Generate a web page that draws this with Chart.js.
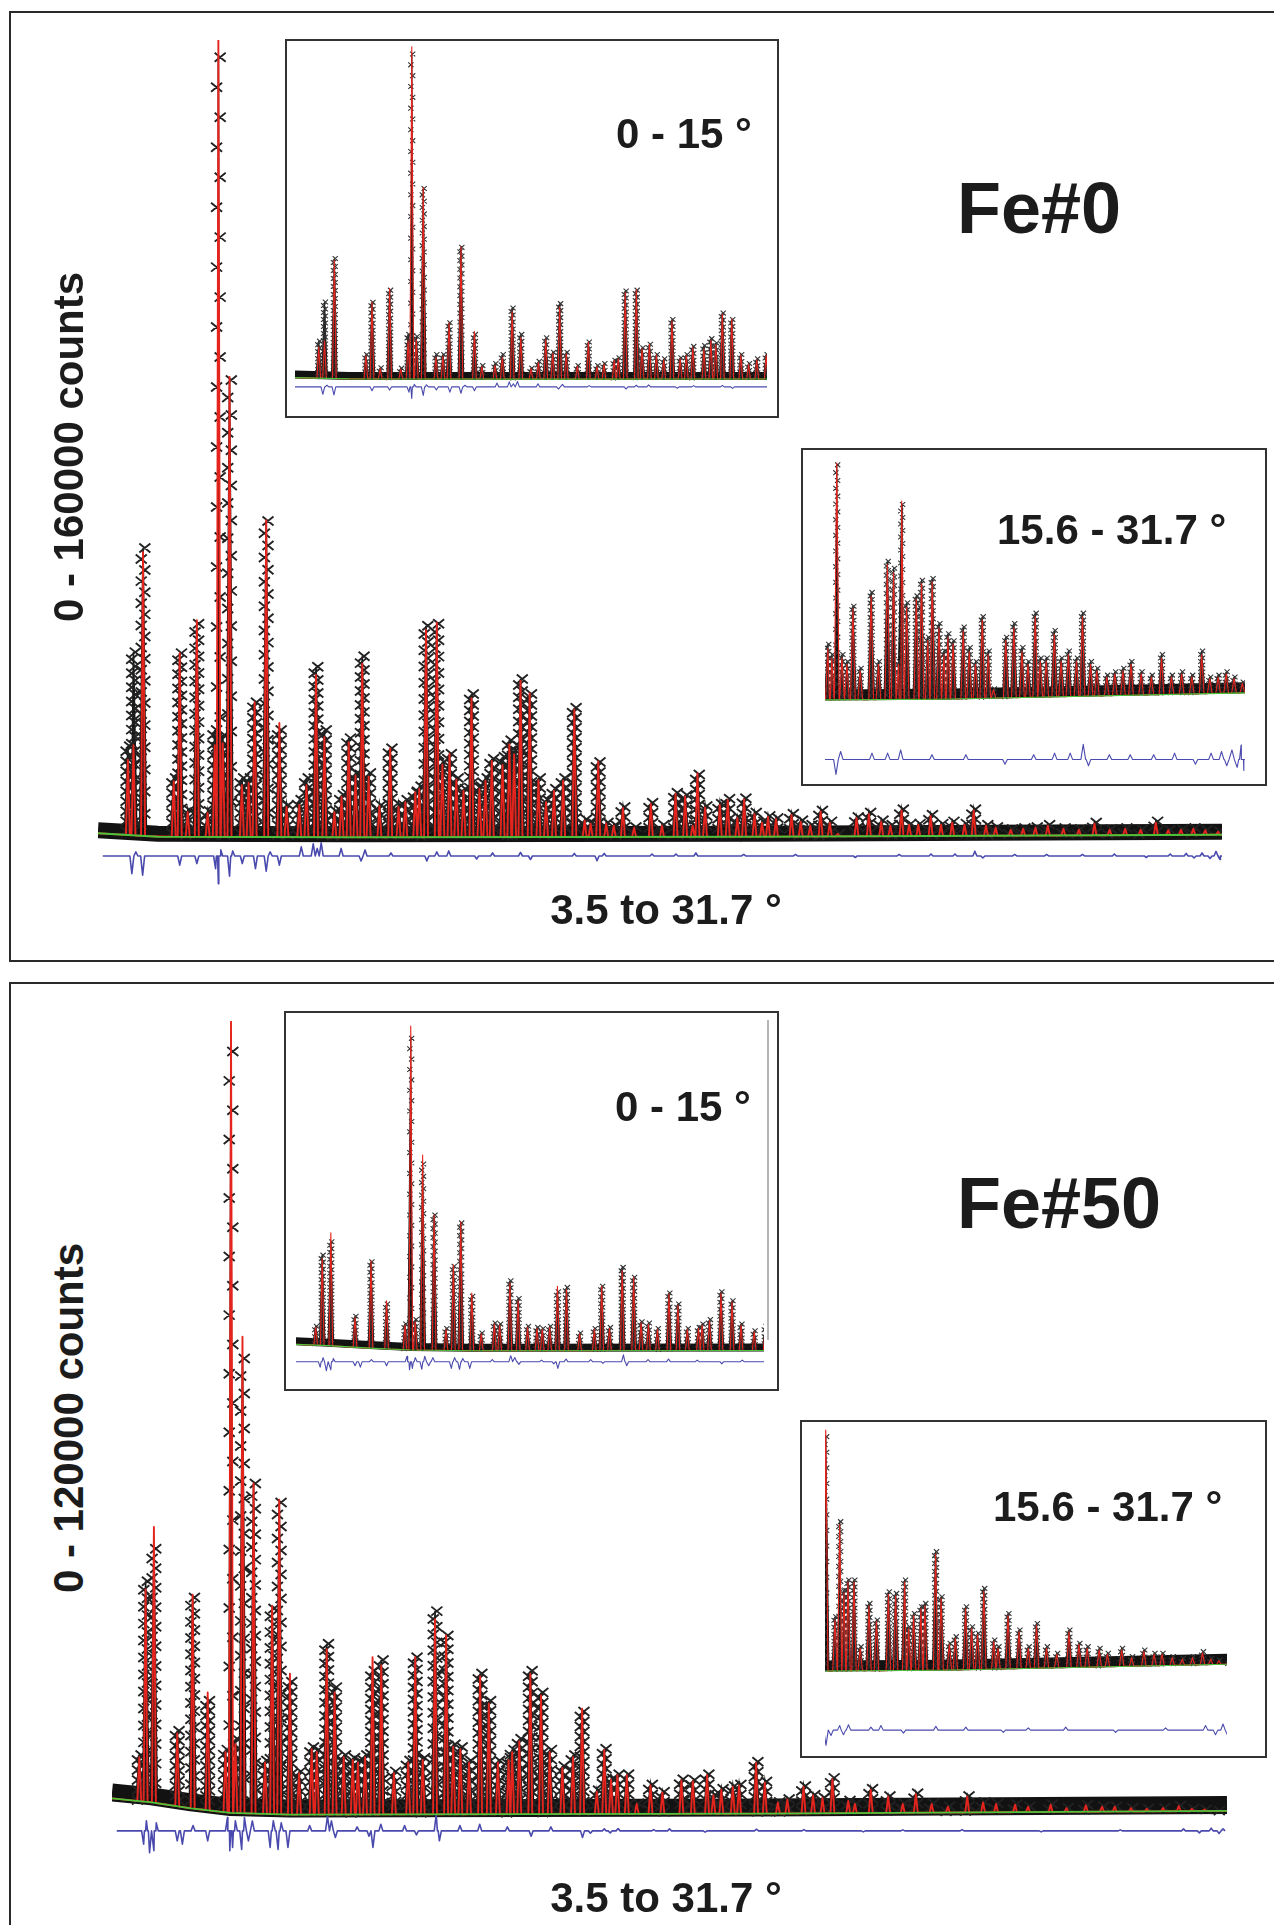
<!DOCTYPE html>
<html><head><meta charset="utf-8">
<script src="https://cdn.jsdelivr.net/npm/chart.js@4.4.1/dist/chart.umd.min.js"></script>
<style>
html,body{margin:0;padding:0;background:#fff;}
body{width:1274px;height:1925px;position:relative;overflow:hidden;font-family:"Liberation Sans",Arial,Helvetica,sans-serif;}
.panel{position:absolute;border:2px solid #2a2a2a;box-sizing:border-box;}
.inset{position:absolute;border:2px solid #333;box-sizing:border-box;background:#fff;}
canvas{position:absolute;}
.t{position:absolute;font-weight:bold;color:#1c1c1c;white-space:nowrap;line-height:1;}
</style></head><body>
<div class="panel" style="left:9px;top:11px;width:1300px;height:951px;"></div>
<div class="panel" style="left:9px;top:982px;width:1300px;height:1000px;"></div>
<script>
// ================= DATA =================
// Fe#0 : peak positions (2theta, deg), observed and calculated peak heights (counts)
const fe0Pos = [4.25,4.39,4.63,5.40,5.55,5.75,5.98,6.25,6.43,6.52,6.63,6.80,7.11,7.28,7.43,7.72,8.05,8.23,8.55,8.73,8.97,9.18,9.43,9.61,9.79,9.96,10.13,10.29,10.56,10.83,11.04,11.21,11.46,11.56,11.73,12.00,12.14,12.32,12.49,12.67,12.87,13.07,13.22,13.38,13.65,13.82,13.94,14.10,14.33,14.55,14.74,14.94,15.17,15.45,
15.71,15.86,16.05,16.25,16.44,16.67,16.95,17.37,17.65,17.99,18.23,18.42,18.54,18.73,19.10,19.30,19.54,19.71,19.97,20.16,20.31,20.51,20.90,21.13,21.37,21.63,21.86,22.06,22.53,22.84,23.15,23.38,23.66,23.85,24.08,24.39,24.65,24.93,25.24,25.47,25.78,26.02,26.40,26.71,27.02,27.33,27.72,28.11,28.50,28.88,29.27,29.66,30.04,30.35,30.67,30.98,31.28,31.60];
const fe0Obs = [20400,39000,59600,14100,38800,7800,44600,7600,23600,156600,22600,92800,14100,14100,29100,64900,23600,8800,9800,14100,36100,23600,7600,10800,22000,15100,38200,15100,8800,20000,8800,9800,11300,12500,44200,44600,17300,18900,14100,12000,30700,12500,14100,17900,18300,21600,19500,33700,30700,14100,9800,12000,14100,28000,
5970,5320,17290,5320,4880,8370,4450,9240,4880,11200,10760,4880,14790,8590,9020,10000,6410,10110,7280,5540,6630,6190,7060,5760,4880,7710,5540,3150,6410,7280,5760,4880,7930,5100,5100,6840,5100,5540,5100,7930,4880,4450,4020,4230,4450,4880,4230,4020,5320,4020,4230,4020,5540,3900,4020,4230,3900,3580];
const fe0Calc = [17700,20600,58800,13500,38800,7400,45300,7200,20600,160000,21000,93400,12700,13200,29100,65100,25000,8400,8800,12700,34500,22200,7400,10400,21200,14600,36700,14400,8600,20000,8400,9400,11300,12000,43400,44800,16800,18900,13800,11600,29900,12000,13600,17500,16700,20800,18800,33300,30900,13700,9400,11600,13600,27600,
5700,5100,17400,5100,4700,8200,4300,9000,4700,11000,10500,4700,15000,8300,8800,9800,6200,9900,7000,5300,6400,6000,6800,5500,4700,7500,5300,3100,6200,7000,5500,4700,7700,4900,4900,6600,4900,5300,4900,7700,4700,4300,3900,4100,4300,4700,4100,3900,5100,3900,4100,3900,5300,3800,3900,4100,3800,3500];
const fe0BgPos = [3.5,5.0,10.0,20.0,31.7];
const fe0Bg = [3200,2500,2400,2500,2900];
const fe0DiffPos = [4.35,4.45,4.62,5.55,5.98,6.45,6.52,6.58,6.80,6.88,7.12,7.45,7.72,7.82,8.05,8.6,8.9,9.0,9.1,9.6,10.1,10.2,10.85,11.75,12.0,12.3,13.0,13.4,14.1,14.35,15.45,16.02,16.2,17.4,18.0,18.5,19.7,21.0,22.5,23.6,24.4,25.0,25.5,25.7,26.5,27.3,28.2,29.0,29.8,30.4,30.8,31.0,31.2,31.4,31.55,31.65];
const fe0Diff = [-3500,800,-3800,-1800,-1500,-2500,-5500,1200,-4000,1000,-1500,-2500,-3000,800,-1800,1800,2400,1500,2600,1500,-1000,1200,600,-1000,800,1000,-600,600,700,-700,500,-950,500,400,400,600,300,300,-300,300,400,400,950,-400,300,300,300,400,-300,400,500,-400,600,-500,900,-700];

// Fe#50
const fe50Pos = [4.19,4.35,4.56,5.15,5.54,5.92,6.37,6.51,6.62,6.80,7.08,7.37,7.55,7.73,8.00,8.23,8.55,8.68,8.93,9.13,9.36,9.59,9.72,9.90,10.09,10.31,10.63,10.99,11.17,11.36,11.67,11.95,12.13,12.31,12.53,12.81,13.03,13.26,13.53,13.62,13.80,14.08,14.35,14.57,14.89,15.16,
15.39,15.76,15.95,16.12,16.28,16.52,16.77,17.12,17.42,17.90,18.19,18.55,18.71,18.91,19.20,19.36,19.79,20.01,20.34,20.58,20.99,21.23,21.47,21.72,22.12,22.29,22.69,23.13,23.50,23.83,24.23,24.64,25.13,25.53,25.86,26.34,26.67,27.24,27.64,28.13,28.54,28.86,29.27,29.67,30.08,30.48,30.81,31.13,31.46];
const fe50Obs = [9330,35540,40450,13010,33080,17520,10150,115390,11790,69120,50280,8510,31440,47410,20390,6870,10560,10150,26120,19570,9330,8920,8510,9330,22030,23660,6870,8510,24070,8920,31030,27350,10970,10560,8510,21610,17520,8510,8920,10150,11790,22030,18750,10150,7690,9330,
15890,4020,10290,5780,6440,6440,2050,4900,3800,5670,5560,6440,3360,4240,4680,4900,8310,5340,2270,2710,4680,3360,2930,5890,2490,2050,4240,3150,2050,3580,2050,1610,3150,2270,2050,1940,1610,1940,1390,1830,1610,1610,1390,1280,1390,1720,1280,1170,950];
const fe50Calc = [9000,34300,43730,12600,33490,18750,9800,119900,11000,72390,50280,8200,31850,47820,21610,6600,10200,9800,25300,18750,9000,8600,8200,9000,24070,22840,6600,8200,24070,8600,29800,27350,10600,10200,8200,21200,17100,8200,8600,9800,11400,21600,18300,9800,7400,9000,
16330,3800,10100,5600,6300,6300,1950,4750,3700,5500,5400,6300,3250,4100,4550,4750,8150,5200,2200,2600,4550,3250,2850,5700,2400,1950,4100,3050,1950,3450,1950,1550,3050,2200,1950,1850,1550,1850,1330,1750,1550,1550,1330,1230,1330,1650,1230,1120,920];
const fe50BgPos = [3.5,4.5,5.5,6.5,8.0,20.0,31.7];
const fe50Bg = [2800,2200,1300,600,350,500,900];
const fe50DiffPos = [4.30,4.37,4.45,4.56,4.62,5.15,5.28,5.55,5.92,6.42,6.48,6.55,6.62,6.78,6.85,6.95,7.05,7.50,7.58,7.70,7.78,7.95,8.50,8.95,9.05,9.15,9.70,10.00,10.10,10.30,10.90,11.20,11.70,11.78,12.30,12.80,13.50,14.10,14.60,15.40,15.60,15.95,16.10,16.30,17.20,17.60,18.50,19.80,21.00,22.50,23.50,25.00,27.00,29.00,30.60,31.00,31.30,31.50,31.60];
const fe50Diff = [-2000,1500,-3300,-3000,1200,-1500,-2000,800,-1500,2000,-3000,-2500,1500,-2800,2000,-1500,1500,-2500,1500,-2800,1200,-2500,800,2200,1500,-1000,600,-800,-2500,1000,800,-600,2500,-1500,800,1000,600,-800,600,-1000,-350,300,-300,350,200,300,-200,250,200,-150,150,200,-150,150,300,-300,400,-400,300];

const rangeFull = [3.5, 31.7];

// ================= RENDERING =================
const RED = '#e5241d', GREEN = '#4cc23a', BLUE = '#4a4aae', BLACK = '#121212';

function bgAt(bp, bv, x) {
  if (x <= bp[0]) return bv[0];
  for (let i = 1; i < bp.length; i++) {
    if (x <= bp[i]) { const t = (x - bp[i-1]) / (bp[i] - bp[i-1]); return bv[i-1] + t * (bv[i] - bv[i-1]); }
  }
  return bv[bv.length - 1];
}
function spikePts(pos, h, bp, bv, w) {
  const pts = [{x: rangeFull[0], y: bgAt(bp, bv, rangeFull[0])}, {x: rangeFull[1], y: bgAt(bp, bv, rangeFull[1])}];
  pos.forEach((p, i) => {
    pts.push({x: p - w, y: bgAt(bp, bv, p - w)}, {x: p, y: h[i]}, {x: p + w, y: bgAt(bp, bv, p + w)});
  });
  return pts.sort((a, b) => a.x - b.x);
}
function diffPts(pos, d, off, w) {
  const pts = [{x: 3.62, y: off}, {x: 31.66, y: off}];
  pos.forEach((p, i) => { pts.push({x: p - w, y: off}, {x: p, y: off + d[i]}, {x: p + w, y: off}); });
  return pts.sort((a, b) => a.x - b.x);
}

const cfgs = {};
const obsMarks = {
  id: 'obsMarks',
  beforeDatasetDraw(chart, args) {
    if (args.index !== 3) return;
    const o = cfgs[chart.canvas.id];
    const {ctx, chartArea: a, scales: {x, y}} = chart;
    ctx.save();
    ctx.beginPath(); ctx.rect(a.left, a.top, a.right - a.left, a.bottom - a.top); ctx.clip();
    ctx.beginPath();
    o.bp.forEach((p, i) => {
      const px = x.getPixelForValue(p), py = y.getPixelForValue(o.bv[i]) + o.bandShift;
      i ? ctx.lineTo(px, py) : ctx.moveTo(px, py);
    });
    ctx.lineWidth = o.band; ctx.strokeStyle = BLACK; ctx.lineJoin = 'round'; ctx.stroke();
    ctx.restore();
  },
  afterDatasetDraw(chart, args) {
    if (args.index !== 3) return;
    const o = cfgs[chart.canvas.id];
    const {ctx, chartArea: a, scales: {x, y}} = chart;
    ctx.save();
    ctx.beginPath(); ctx.rect(a.left, a.top, a.right - a.left, a.bottom - a.top); ctx.clip();
    ctx.strokeStyle = o.crossColor; ctx.lineWidth = o.crossLw;
    ctx.beginPath();
    o.pos.forEach((p, i) => {
      const px = x.getPixelForValue(p);
      if (px < a.left - 6 || px > a.right + 6) return;
      const top = y.getPixelForValue(o.obs[i]);
      const base = y.getPixelForValue(bgAt(o.bp, o.bv, p));
      const step = Math.max(o.minStep, (base - top) / o.n);
      for (let k = 0; top + k * step < base - 1 || k === 0; k++) {
        const cy = top + k * step, cx = px + (k % 2 ? -o.alt : o.alt);
        ctx.moveTo(cx - o.rx, cy - o.ry); ctx.lineTo(cx + o.rx, cy + o.ry);
        ctx.moveTo(cx - o.rx, cy + o.ry); ctx.lineTo(cx + o.rx, cy - o.ry);
      }
    });
    ctx.stroke();
    ctx.restore();
  }
};

let nChart = 0;
function makePlot(area, xr, yr, d, st) {
  const M = 12;
  const cv = document.createElement('canvas');
  cv.id = 'c' + (nChart++);
  cv.width = area.w + 2 * M; cv.height = area.h + 2 * M;
  cv.style.left = (area.x - M) + 'px'; cv.style.top = (area.y - M) + 'px';
  cv.style.width = cv.width + 'px'; cv.style.height = cv.height + 'px';
  document.body.appendChild(cv);
  cfgs[cv.id] = Object.assign({pos: d.pos, obs: d.obs, bp: d.bp, bv: d.bv}, st);
  new Chart(cv, {
    type: 'line',
    data: { datasets: [
      { label: 'Background', data: d.bp.map((p, i) => ({x: p, y: d.bv[i]})), borderColor: GREEN, borderWidth: st.lwBg, pointRadius: 0 },
      { label: 'Calculated', data: spikePts(d.pos, d.calc, d.bp, d.bv, st.wCalc), borderColor: RED, borderWidth: st.lwCalc, pointRadius: 0, borderJoinStyle: 'round' },
      { label: 'Difference', data: diffPts(d.dpos, d.diff, st.diffOff, st.wCalc), borderColor: BLUE, borderWidth: st.lwDiff, pointRadius: 0, borderJoinStyle: 'round' },
      { label: 'Observed', data: spikePts(d.pos, d.obs, d.bp, d.bv, st.wObs), borderColor: BLACK, borderWidth: st.lwObs, pointRadius: 0, fill: {target: 0}, backgroundColor: BLACK }
    ]},
    options: {
      responsive: false, animation: false, events: [],
      layout: { padding: M },
      plugins: { legend: {display: false}, tooltip: {enabled: false}, filler: {propagate: false} },
      scales: {
        x: { type: 'linear', min: xr[0], max: xr[1], display: false },
        y: { type: 'linear', min: yr[0], max: yr[1], display: false }
      }
    },
    plugins: [obsMarks]
  });
}

const D0 = {pos: fe0Pos, obs: fe0Obs, calc: fe0Calc, bp: fe0BgPos, bv: fe0Bg, dpos: fe0DiffPos, diff: fe0Diff};
const D50 = {pos: fe50Pos, obs: fe50Obs, calc: fe50Calc, bp: fe50BgPos, bv: fe50Bg, dpos: fe50DiffPos, diff: fe50Diff};

const mainStyle = {wCalc: 0.05, wObs: 0.085, lwBg: 1.8, lwCalc: 1.9, lwDiff: 1.6, lwObs: 1.6, band: 16, bandShift: -3,
  rx: 5.5, ry: 4.5, crossLw: 1.9, crossColor: '#222', n: 26, minStep: 5, alt: 1.8};
const in1Style = {wCalc: 0.045, wObs: 0.07, lwBg: 1.1, lwCalc: 1.1, lwDiff: 1.1, lwObs: 1.0, band: 8, bandShift: -3,
  rx: 2.6, ry: 2.4, crossLw: 1.1, crossColor: '#333', n: 30, minStep: 3.5, alt: 0.9};
const in2Style = {wCalc: 0.09, wObs: 0.13, lwBg: 1.1, lwCalc: 1.1, lwDiff: 1.1, lwObs: 1.0, band: 11, bandShift: -5,
  rx: 2.6, ry: 2.4, crossLw: 1.1, crossColor: '#333', n: 30, minStep: 3.5, alt: 0.9};

// ---- Panel Fe#0 ----
makePlot({x: 98, y: 40, w: 1124, h: 860}, [3.5, 31.7], [-10000, 160000], D0, Object.assign({}, mainStyle, {diffOff: -1300}));
</script>
<div class="inset" style="left:285px;top:39px;width:494px;height:379px;"></div>
<div class="inset" style="left:801px;top:448px;width:466px;height:338px;"></div>
<script>
makePlot({x: 295, y: 45, w: 472, h: 365}, [3.67, 15.19], [-12253, 160866], D0, Object.assign({}, in1Style, {diffOff: -1300}));
makePlot({x: 825, y: 455, w: 420, h: 325}, [15.6, 31.7], [-2598, 17910], D0, Object.assign({}, in2Style, {diffOff: -1300}));
// ---- Panel Fe#50 ----
makePlot({x: 112, y: 1021, w: 1115, h: 849}, [3.5, 31.7], [-8000, 120000], D50, Object.assign({}, mainStyle, {diffOff: -2100, bandShift: -6, band: 18}));
</script>
<div class="inset" style="left:284px;top:1011px;width:495px;height:380px;"></div>
<div style="position:absolute;left:767px;top:1020px;width:2px;height:320px;background:#b5b5b5;"></div>
<div class="inset" style="left:800px;top:1420px;width:467px;height:338px;"></div>
<script>
makePlot({x: 296, y: 1018, w: 468, h: 367}, [3.71, 15.13], [-12290, 122876], D50, Object.assign({}, in1Style, {diffOff: -3700}));
makePlot({x: 825, y: 1425, w: 402, h: 325}, [15.36, 31.46], [-4760, 16658], D50, Object.assign({}, in2Style, {diffOff: -3450}));
</script>
<div class="t" style="left:957px;top:172px;font-size:72px;">Fe#0</div>
<div class="t" style="left:957px;top:1167px;font-size:72px;">Fe#50</div>
<div class="t" style="left:616px;top:113px;font-size:42px;">0 - 15 °</div>
<div class="t" style="left:615px;top:1086px;font-size:42px;">0 - 15 °</div>
<div class="t" style="left:997px;top:509px;font-size:42px;">15.6 - 31.7 °</div>
<div class="t" style="left:993px;top:1486px;font-size:42px;">15.6 - 31.7 °</div>
<div class="t" style="left:466px;width:400px;text-align:center;top:889px;font-size:42px;">3.5 to 31.7 °</div>
<div class="t" style="left:466px;width:400px;text-align:center;top:1877px;font-size:42px;">3.5 to 31.7 °</div>
<div class="t" style="left:-131px;width:400px;text-align:center;top:426px;font-size:42px;transform:rotate(-90deg);">0 - 160000 counts</div>
<div class="t" style="left:-131px;width:400px;text-align:center;top:1397px;font-size:42px;transform:rotate(-90deg);">0 - 120000 counts</div>
</body></html>
